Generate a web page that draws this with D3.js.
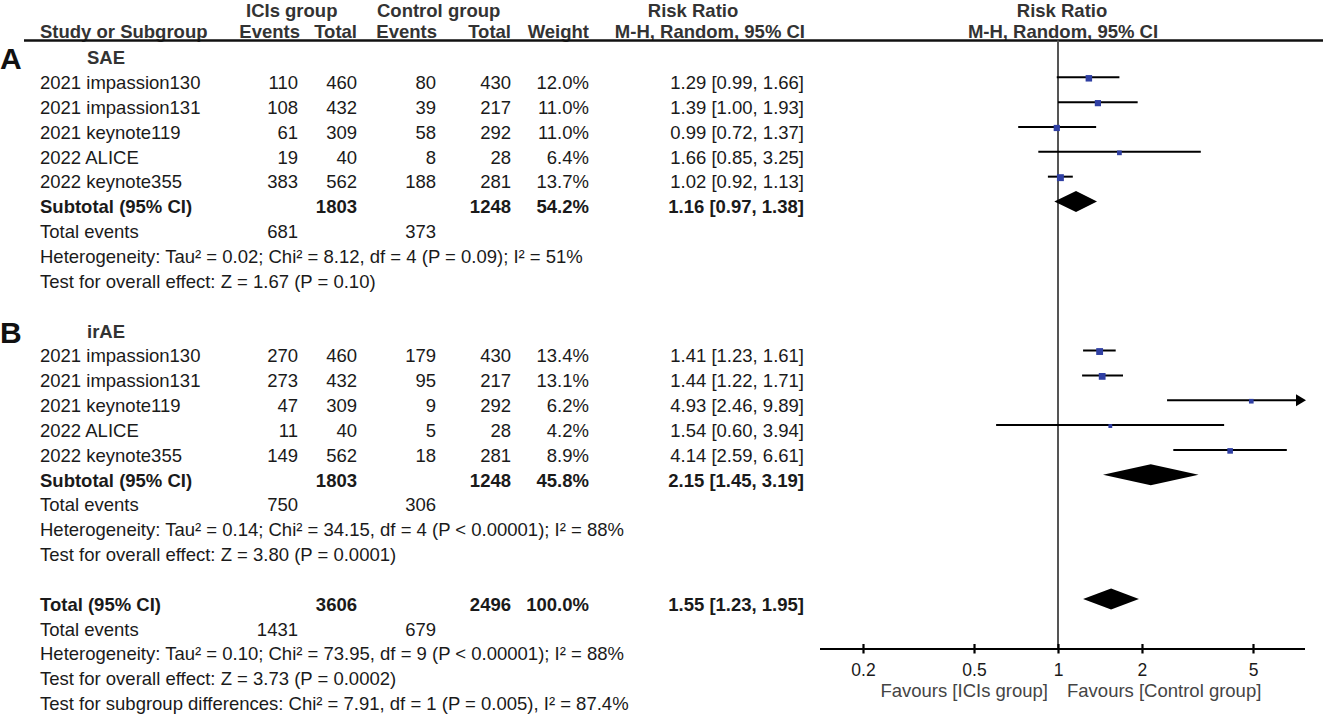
<!DOCTYPE html>
<html><head><meta charset="utf-8">
<script src="https://cdn.jsdelivr.net/npm/d3@7"></script>
<style>
html,body{margin:0;padding:0;background:#fff;}
svg text{font-family:"Liberation Sans",Arial,Helvetica,sans-serif;fill:#1a1a1a;}
</style></head>
<body><svg id="c" width="1323" height="716"></svg>
<script>
// ---------- data ----------
const studies = ["2021 impassion130","2021 impassion131","2021 keynote119","2022 ALICE","2022 keynote355"];
// SAE subgroup
const saeIciEvents = [110,108,61,19,383];
const saeIciTotal  = [460,432,309,40,562];
const saeCtlEvents = [80,39,58,8,188];
const saeCtlTotal  = [430,217,292,28,281];
const saeWeight    = [12.0,11.0,11.0,6.4,13.7];
const saeRR        = [1.29,1.39,0.99,1.66,1.02];
const saeLo        = [0.99,1.00,0.72,0.85,0.92];
const saeHi        = [1.66,1.93,1.37,3.25,1.13];
const saeSub = {iciTotal:1803, ctlTotal:1248, weight:"54.2%", rr:1.16, lo:0.97, hi:1.38, iciEv:681, ctlEv:373,
  het:"Heterogeneity: Tau² = 0.02; Chi² = 8.12, df = 4 (P = 0.09); I² = 51%",
  test:"Test for overall effect: Z = 1.67 (P = 0.10)"};
// irAE subgroup
const iraeIciEvents = [270,273,47,11,149];
const iraeIciTotal  = [460,432,309,40,562];
const iraeCtlEvents = [179,95,9,5,18];
const iraeCtlTotal  = [430,217,292,28,281];
const iraeWeight    = [13.4,13.1,6.2,4.2,8.9];
const iraeRR        = [1.41,1.44,4.93,1.54,4.14];
const iraeLo        = [1.23,1.22,2.46,0.60,2.59];
const iraeHi        = [1.61,1.71,9.89,3.94,6.61];
const iraeSub = {iciTotal:1803, ctlTotal:1248, weight:"45.8%", rr:2.15, lo:1.45, hi:3.19, iciEv:750, ctlEv:306,
  het:"Heterogeneity: Tau² = 0.14; Chi² = 34.15, df = 4 (P < 0.00001); I² = 88%",
  test:"Test for overall effect: Z = 3.80 (P = 0.0001)"};
// overall
const overall = {iciTotal:3606, ctlTotal:2496, weight:"100.0%", rr:1.55, lo:1.23, hi:1.95, iciEv:1431, ctlEv:679,
  het:"Heterogeneity: Tau² = 0.10; Chi² = 73.95, df = 9 (P < 0.00001); I² = 88%",
  test:"Test for overall effect: Z = 3.73 (P = 0.0002)",
  sub:"Test for subgroup differences: Chi² = 7.91, df = 1 (P = 0.005), I² = 87.4%"};
const tickValues = [0.2,0.5,1,2,5];
const favoursLeft = "Favours [ICIs group]";
const favoursRight = "Favours [Control group]";

// ---------- layout ----------
const svg = d3.select("#c");
const FS = 18.5;
const colX = {name:40, iciEv:298, iciTot:357, ctlEv:436, ctlTot:511, wt:589, ci:804};
const rowY = k => 77.3 + 24.84*k;     // mark centre line
const textY = k => rowY(k) + 11.8;     // text baseline
const x = d3.scaleLog().domain([0.2,5]).range([863,1253]);
const plotL = 820, plotR = 1305, axisY = 649, topY = 40.5;
const sq = d3.scaleSqrt().domain([0,14]).range([0,7.0]);
const fmt = v => v.toFixed(2);

function txt(xp, yp, s, opt={}) {
  return svg.append("text").attr("x",xp).attr("y",yp).text(s)
    .attr("font-size", opt.size||FS)
    .attr("font-weight", opt.bold?"bold":"normal")
    .attr("text-anchor", opt.anchor||"start")
    .style("fill", opt.fill||"#1a1a1a");
}

// header
const hc = "#333";
const h1 = 17;
txt(246, h1, "ICIs group", {bold:true, fill:hc});
txt(377, h1, "Control group", {bold:true, fill:hc});
txt(693, h1, "Risk Ratio", {bold:true, anchor:"middle", fill:hc});
txt(1062, h1, "Risk Ratio", {bold:true, anchor:"middle", fill:hc});
txt(40, 38, "Study or Subgroup", {bold:true, fill:hc});
txt(300, 38, "Events", {bold:true, anchor:"end", fill:hc});
txt(357, 38, "Total", {bold:true, anchor:"end", fill:hc});
txt(437, 38, "Events", {bold:true, anchor:"end", fill:hc});
txt(511, 38, "Total", {bold:true, anchor:"end", fill:hc});
txt(589, 38, "Weight", {bold:true, anchor:"end", fill:hc});
txt(805, 38, "M-H, Random, 95% CI", {bold:true, anchor:"end", fill:hc});
txt(1063, 38, "M-H, Random, 95% CI", {bold:true, anchor:"middle", fill:hc});
svg.append("line").attr("x1",24).attr("x2",1323).attr("y1",topY).attr("y2",topY)
  .attr("stroke","#111").attr("stroke-width",2.4);

// vertical line of no effect
svg.append("line").attr("x1",x(1)).attr("x2",x(1)).attr("y1",topY).attr("y2",axisY)
  .attr("stroke","#555").attr("stroke-width",2);

// panel letters
txt(0, 69, "A", {bold:true, size:30, fill:"#111"});
txt(0, 343, "B", {bold:true, size:30, fill:"#111"});

function drawGroup(start, label, ev1, tot1, ev2, tot2, wt, rr, lo, hi, sub) {
  txt(87, textY(start-1), label, {bold:true, fill:"#333"});
  studies.forEach((s,i) => {
    const k = start + i, ty = textY(k), cy = rowY(k);
    txt(colX.name, ty, s);
    txt(colX.iciEv, ty, ev1[i], {anchor:"end"});
    txt(colX.iciTot, ty, tot1[i], {anchor:"end"});
    txt(colX.ctlEv, ty, ev2[i], {anchor:"end"});
    txt(colX.ctlTot, ty, tot2[i], {anchor:"end"});
    txt(colX.wt, ty, wt[i].toFixed(1)+"%", {anchor:"end"});
    txt(colX.ci, ty, `${fmt(rr[i])} [${fmt(lo[i])}, ${fmt(hi[i])}]`, {anchor:"end"});
    const x1 = Math.max(plotL, x(lo[i]));
    const over = x(hi[i]) > plotR;
    const x2 = over ? plotR - 8 : x(hi[i]);
    svg.append("line").attr("x1",x1).attr("x2",x2).attr("y1",cy).attr("y2",cy)
      .attr("stroke","#000").attr("stroke-width",2);
    if (over) {
      svg.append("path").attr("d",`M${plotR-9},${cy-6}L${plotR+1},${cy}L${plotR-9},${cy+6}Z`).attr("fill","#000");
    }
    const s2 = sq(wt[i]);
    svg.append("rect").attr("x",x(rr[i])-s2/2).attr("y",cy+1-s2/2).attr("width",s2).attr("height",s2)
      .attr("fill","#2f3fa3");
  });
  const ks = start + 5;
  drawSummary(ks, "Subtotal (95% CI)", sub);
  txt(colX.name, textY(ks+1), "Total events");
  txt(colX.iciEv, textY(ks+1), sub.iciEv, {anchor:"end"});
  txt(colX.ctlEv, textY(ks+1), sub.ctlEv, {anchor:"end"});
  txt(colX.name, textY(ks+2), sub.het);
  txt(colX.name, textY(ks+3), sub.test);
}
function drawSummary(k, label, s) {
  const ty = textY(k), cy = rowY(k);
  txt(colX.name, ty, label, {bold:true});
  txt(colX.iciTot, ty, s.iciTotal, {bold:true, anchor:"end"});
  txt(colX.ctlTot, ty, s.ctlTotal, {bold:true, anchor:"end"});
  txt(colX.wt, ty, s.weight, {bold:true, anchor:"end"});
  txt(colX.ci, ty, `${fmt(s.rr)} [${fmt(s.lo)}, ${fmt(s.hi)}]`, {bold:true, anchor:"end"});
  const h = 10.5;
  svg.append("path").attr("d",`M${x(s.lo)},${cy}L${x(s.rr)},${cy-h}L${x(s.hi)},${cy}L${x(s.rr)},${cy+h}Z`)
    .attr("fill","#000");
}

drawGroup(0, "SAE", saeIciEvents, saeIciTotal, saeCtlEvents, saeCtlTotal, saeWeight, saeRR, saeLo, saeHi, saeSub);
drawGroup(11, "irAE", iraeIciEvents, iraeIciTotal, iraeCtlEvents, iraeCtlTotal, iraeWeight, iraeRR, iraeLo, iraeHi, iraeSub);

drawSummary(21, "Total (95% CI)", overall);
txt(colX.name, textY(22), "Total events");
txt(colX.iciEv, textY(22), overall.iciEv, {anchor:"end"});
txt(colX.ctlEv, textY(22), overall.ctlEv, {anchor:"end"});
txt(colX.name, textY(23), overall.het);
txt(colX.name, textY(24), overall.test);
txt(colX.name, textY(25), overall.sub);

// axis
svg.append("line").attr("x1",plotL).attr("x2",plotR).attr("y1",axisY).attr("y2",axisY)
  .attr("stroke","#000").attr("stroke-width",2.2);
const ax = d3.axisBottom(x).tickValues(tickValues).tickSize(0).tickFormat(d3.format("~g"));
const axG = svg.append("g").attr("transform",`translate(0,${axisY})`).call(ax);
axG.select(".domain").remove();
axG.selectAll(".tick text").attr("y",27).attr("dy",0).attr("font-size",17.5)
  .attr("font-family",'"Liberation Sans",Arial,sans-serif').style("fill","#1a1a1a");
axG.selectAll(".tick").append("line").attr("y1",-5).attr("y2",4.5)
  .attr("stroke","#000").attr("stroke-width",2.2);
txt(1048, 697, favoursLeft, {anchor:"end", fill:"#444"});
txt(1067, 697, favoursRight, {fill:"#444"});
</script></body></html>
